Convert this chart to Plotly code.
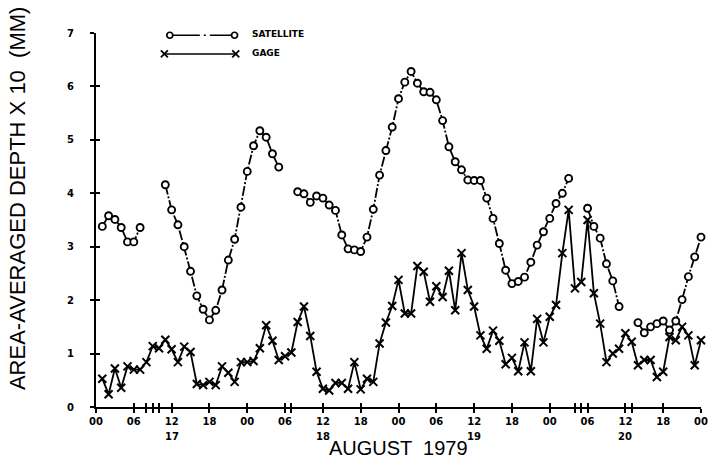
import plotly.graph_objects as go

# Hourly area-averaged depth (x10 mm), 17-20 August 1979
hours = list(range(1, 97))

satellite = [
    3.38, 3.58, 3.51, 3.36, 3.09, 3.09, 3.36,
    None, None, None,
    4.16, 3.69, 3.41, 3.00, 2.54, 2.08, 1.83, 1.63, 1.81, 2.19,
    2.75, 3.14, 3.74, 4.41, 4.89, 5.17, 5.05, 4.74, 4.49,
    None, None,
    4.03, 3.99, 3.83, 3.95, 3.91, 3.78, 3.68, 3.22, 2.96, 2.94,
    2.91, 3.18, 3.70, 4.34, 4.80, 5.24, 5.77, 6.08, 6.28, 6.06,
    5.90, 5.89, 5.75, 5.36, 4.87, 4.59, 4.44, 4.25, 4.24, 4.24,
    3.91, 3.53, 3.06, 2.56, 2.31, 2.35, 2.43, 2.71, 3.03, 3.28,
    3.53, 3.81, 4.00, 4.28,
    None, None,
    3.72, 3.38, 3.16, 2.68, 2.36, 1.88,
    None, None,
    1.58, 1.39, 1.50, 1.56, 1.61, 1.44, 1.61, 2.01, 2.44, 2.81, 3.18,
]

gage = [
    0.53, 0.24, 0.72, 0.36, 0.76, 0.70, 0.70, 0.84, 1.14, 1.10,
    1.26, 1.08, 0.84, 1.13, 1.03, 0.43, 0.41, 0.47, 0.41, 0.76,
    0.64, 0.47, 0.84, 0.84, 0.86, 1.10, 1.53, 1.24, 0.88, 0.95,
    1.02, 1.59, 1.88, 1.33, 0.66, 0.34, 0.31, 0.45, 0.45, 0.34,
    0.84, 0.33, 0.53, 0.47, 1.19, 1.58, 1.89, 2.38, 1.75, 1.75,
    2.64, 2.53, 1.97, 2.26, 2.06, 2.55, 1.81, 2.88, 2.19, 1.88,
    1.34, 1.09, 1.43, 1.24, 0.80, 0.92, 0.67, 1.21, 0.67, 1.65,
    1.21, 1.69, 1.91, 2.88, 3.69, 2.22, 2.34, 3.50, 2.13, 1.56,
    0.84, 1.00, 1.09, 1.38, 1.22, 0.78, 0.88, 0.88, 0.56, 0.66,
    1.31, 1.25, 1.50, 1.34, 0.78, 1.25,
]

tick_hours = list(range(0, 97, 6))
tick_labels = ["00", "06", "12", "18"] * 4 + ["00"]
day_hours = [12, 36, 60, 84]
day_labels = ["17", "18", "19", "20"]
y_ticks = list(range(0, 8))

# hours with no satellite estimate get an unlabelled tick on the time axis
gap_hours = [h for h, v in zip(hours, satellite) if v is None]
x_tick_all = sorted(tick_hours + gap_hours)

INK = "black"
SAT_DASH = "10px,2px,2px,2px"
tick_font = dict(family="DejaVu Sans", size=10, color=INK, weight="bold")

fig = go.Figure()

fig.add_trace(go.Scatter(
    x=hours, y=satellite, mode="lines+markers", connectgaps=False,
    line=dict(color=INK, width=1.8, dash=SAT_DASH),
    marker=dict(symbol="circle", size=7, color="white",
                line=dict(color=INK, width=1.9)),
    cliponaxis=False, showlegend=False,
))
fig.add_trace(go.Scatter(
    x=hours, y=gage, mode="lines+markers",
    line=dict(color=INK, width=1.8),
    marker=dict(symbol="x-thin", size=8, line=dict(color=INK, width=2)),
    cliponaxis=False, showlegend=False,
))

# legend keys, placed in plot-fraction coordinates on a hidden overlay axis pair
fig.add_trace(go.Scatter(
    x=[0.122, 0.229], y=[0.994, 0.994], xaxis="x2", yaxis="y2",
    mode="lines+markers", line=dict(color=INK, width=1.4, dash="30px,4px,2px,4px"),
    marker=dict(symbol="circle", size=6, color="white", line=dict(color=INK, width=1.7)),
    cliponaxis=False, showlegend=False, hoverinfo="skip",
))
fig.add_trace(go.Scatter(
    x=[0.113, 0.231], y=[0.944, 0.944], xaxis="x2", yaxis="y2",
    mode="lines+markers", line=dict(color=INK, width=1.4),
    marker=dict(symbol="x-thin", size=7, line=dict(color=INK, width=1.8)),
    cliponaxis=False, showlegend=False, hoverinfo="skip",
))

# empty trace so the inner-tick overlay axes are drawn
fig.add_trace(go.Scatter(x=[], y=[], xaxis="x3", yaxis="y3",
                         showlegend=False, hoverinfo="skip"))

annotations = [
    dict(text="SATELLITE", x=0.255, y=0.996, xref="paper", yref="paper",
         xanchor="left", yanchor="middle", showarrow=False,
         font=dict(family="DejaVu Sans", size=9, color=INK, weight="bold")),
    dict(text="GAGE", x=0.255, y=0.946, xref="paper", yref="paper",
         xanchor="left", yanchor="middle", showarrow=False,
         font=dict(family="DejaVu Sans", size=9, color=INK, weight="bold")),
    dict(text="AUGUST  1979", x=0.5, y=0, xref="paper", yref="paper",
         xanchor="center", yanchor="middle", yshift=-41, showarrow=False,
         font=dict(family="Liberation Sans", size=20, color=INK)),
    dict(text="AREA-AVERAGED DEPTH X 10  (MM)", x=0, y=0.556, xref="paper", yref="paper",
         xanchor="center", yanchor="middle", xshift=-79, textangle=-90, showarrow=False,
         font=dict(family="Liberation Sans", size=22, color=INK)),
]
for h, lab in zip(day_hours, day_labels):
    annotations.append(dict(text=lab, x=h, y=0, xref="x", yref="paper",
                            xanchor="center", yanchor="middle", yshift=-29,
                            showarrow=False, font=tick_font))

axis_common = dict(showgrid=False, zeroline=False, tickcolor=INK, tickwidth=1.5)

fig.update_layout(
    width=719, height=460,
    margin=dict(l=96, r=11, t=33, b=53),
    paper_bgcolor="white", plot_bgcolor="white",
    annotations=annotations,
    xaxis=dict(
        range=[0, 96], tickmode="array",
        tickvals=x_tick_all,
        ticktext=[tick_labels[tick_hours.index(v)] if v in tick_hours else "" for v in x_tick_all],
        ticks="outside", ticklen=4,
        showline=True, linecolor=INK, linewidth=2,
        tickfont=tick_font, **axis_common,
    ),
    yaxis=dict(
        range=[0, 7], tickmode="array", tickvals=y_ticks,
        ticktext=[str(v) for v in y_ticks],
        ticks="outside", ticklen=4, ticklabelstandoff=14,
        showline=True, linecolor=INK, linewidth=2,
        tickfont=tick_font, **axis_common,
    ),
    xaxis2=dict(range=[0, 1], overlaying="x", visible=False),
    yaxis2=dict(range=[0, 1], overlaying="y", visible=False),
    # inner halves of the cross-shaped tick marks
    xaxis3=dict(range=[0, 96], overlaying="x", anchor="y3", side="bottom",
                tickmode="array", tickvals=x_tick_all, showticklabels=False,
                ticks="inside", ticklen=4, showline=False, **axis_common),
    yaxis3=dict(range=[0, 7], overlaying="y", anchor="x3", side="left",
                tickmode="array", tickvals=y_ticks, showticklabels=False,
                ticks="inside", ticklen=4, showline=False, **axis_common),
)

fig.write_html("out.html")
